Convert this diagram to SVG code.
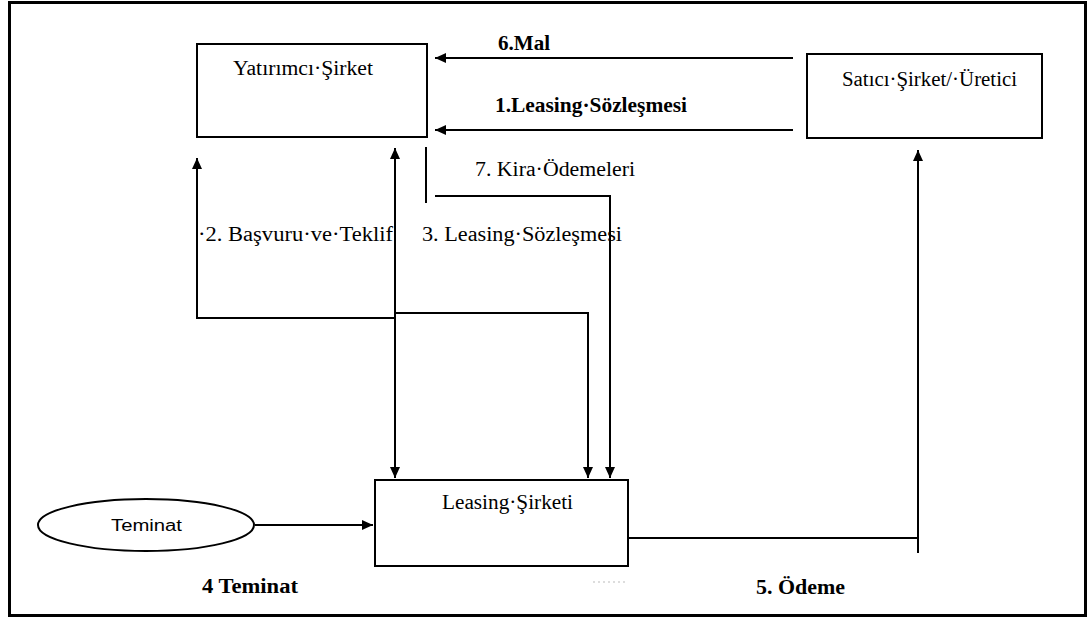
<svg xmlns="http://www.w3.org/2000/svg" width="1088" height="619" viewBox="0 0 1088 619">
<style>
.box{fill:#fff;stroke:#000;stroke-width:2}
.ln{fill:none;stroke:#000;stroke-width:2}
.t{font-family:"Liberation Serif","Times New Roman",serif;font-size:20px;fill:#000}
.b{font-weight:bold}
.s{font-family:"Liberation Sans",Arial,sans-serif;font-size:16px;fill:#000}
</style>
<defs>
<marker id="ah" markerUnits="userSpaceOnUse" markerWidth="12" markerHeight="10" refX="11" refY="5" orient="auto-start-reverse">
<path d="M0,0 L11,5 L0,10 z" fill="#000"/>
</marker>
</defs>
<rect x="9.5" y="2.5" width="1076" height="613" fill="#fff" stroke="#000" stroke-width="3"/>
<g id="yatirimci">
<rect class="box" x="197" y="44" width="230" height="93"/>
<text class="t" x="233" y="75" textLength="140" lengthAdjust="spacingAndGlyphs">Yatırımcı·Şirket</text>
</g>
<g id="satici">
<rect class="box" x="807" y="54" width="235" height="84"/>
<text class="t" x="842" y="86" textLength="175" lengthAdjust="spacingAndGlyphs">Satıcı·Şirket/·Üretici</text>
</g>
<g id="leasing">
<rect class="box" x="375" y="480" width="253" height="86"/>
<text class="t" x="442" y="509" textLength="131" lengthAdjust="spacingAndGlyphs">Leasing·Şirketi</text>
</g>
<g id="teminat">
<ellipse cx="146" cy="525" rx="108" ry="26" fill="#fff" stroke="#000" stroke-width="2"/>
<text class="s" x="111" y="531" textLength="71" lengthAdjust="spacingAndGlyphs">Teminat</text>
</g>
<g id="connectors">
<path class="ln" d="M793,58 H435" marker-end="url(#ah)"/>
<path class="ln" d="M793,130 H435" marker-end="url(#ah)"/>
<path class="ln" d="M395,318 H197 V158" marker-end="url(#ah)"/>
<path class="ln" d="M395,148 V478" marker-start="url(#ah)" marker-end="url(#ah)"/>
<path class="ln" d="M395,313 H588 V478" marker-end="url(#ah)"/>
<path class="ln" d="M426,147 V203"/>
<path class="ln" d="M435,196 H610 V478" marker-end="url(#ah)"/>
<path class="ln" d="M255,525 H373" marker-end="url(#ah)"/>
<path class="ln" d="M628,538 H918"/>
<path class="ln" d="M918,553 V150" marker-end="url(#ah)"/>
<path d="M593,582 H625" fill="none" stroke="#bbb" stroke-width="1" stroke-dasharray="2,3"/>
</g>
<g id="labels">
<text class="t b" x="498" y="50" textLength="52" lengthAdjust="spacingAndGlyphs">6.Mal</text>
<text class="t b" x="495" y="112" textLength="192" lengthAdjust="spacingAndGlyphs">1.Leasing·Sözleşmesi</text>
<text class="t" x="475" y="176" textLength="160" lengthAdjust="spacingAndGlyphs">7. Kira·Ödemeleri</text>
<text class="t" x="198" y="241" textLength="195" lengthAdjust="spacingAndGlyphs">·2. Başvuru·ve·Teklif</text>
<text class="t" x="422" y="241" textLength="200" lengthAdjust="spacingAndGlyphs">3. Leasing·Sözleşmesi</text>
<text class="t b" x="202" y="593" textLength="96" lengthAdjust="spacingAndGlyphs">4  Teminat</text>
<text class="t b" x="756" y="594" textLength="89" lengthAdjust="spacingAndGlyphs">5. Ödeme</text>
</g>
</svg>
